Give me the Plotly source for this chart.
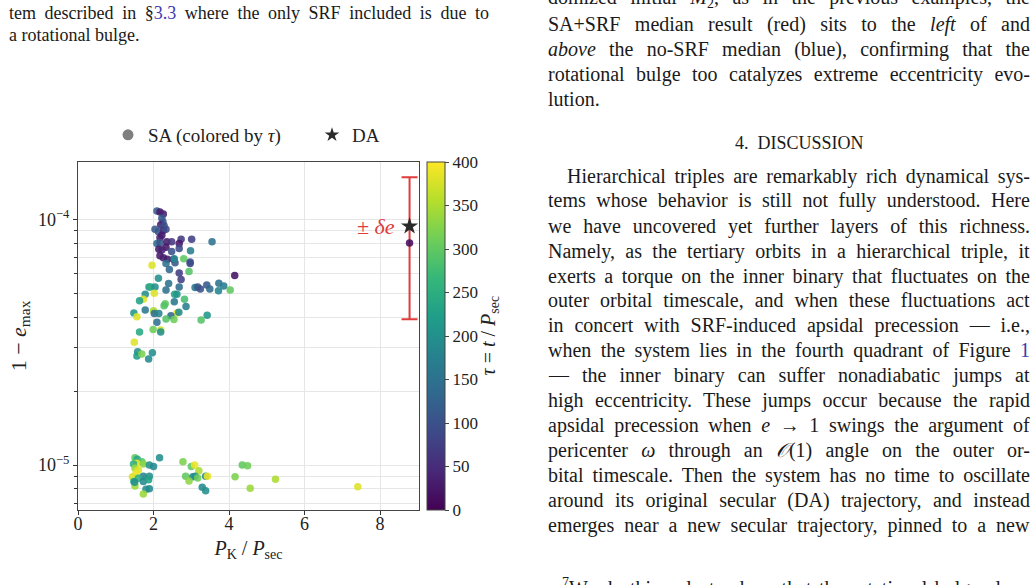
import plotly.graph_objects as go
import numpy as np
import json

# ---------------- data ----------------
sa_x = [2.09, 2.17, 2.26, 2.22, 2.25, 2.19, 2.28, 2.04, 2.13, 2.26, 2.33, 2.22, 2.17, 2.09, 2.17, 2.35, 2.48, 2.73, 3.01, 2.68,
        3.55, 2.33, 2.14, 2.22, 2.48, 2.68, 2.98, 2.17, 2.26, 2.37, 2.53, 2.57, 2.33, 2.55, 2.80, 2.97, 2.97, 1.96, 2.42, 2.68,
        2.94, 4.15, 2.73, 2.13, 2.40, 2.68, 1.88, 1.93, 2.04, 2.33, 3.10, 3.17, 3.24, 3.41, 3.73, 3.86, 3.72, 3.49, 4.03, 2.02,
        1.78, 2.56, 2.62, 1.73, 1.63, 2.82, 2.55, 2.31, 2.28, 2.86, 1.78, 2.00, 1.48, 2.02, 2.14, 2.62, 2.67, 2.46, 1.56, 2.33,
        2.54, 3.42, 3.26, 2.09, 1.63, 1.99, 2.19, 2.19, 1.49, 1.58, 1.56, 1.69, 1.97, 1.87, 8.78,
        1.51, 1.57, 1.69, 1.55, 1.73, 1.47, 1.89, 2.00, 2.16, 1.51, 1.60, 1.54, 1.44, 1.73, 1.89, 1.60, 1.73, 1.87, 1.48, 1.51,
        1.50, 1.80, 1.89, 1.73,
        2.78, 3.00, 3.09, 3.20, 2.85, 3.04, 3.10, 3.17, 2.94, 3.38, 3.43, 3.29, 3.38, 4.16, 4.35, 4.49, 4.56, 5.23, 7.41]
sa_y = [1.08e-4, 1.07e-4, 1.05e-4, 1.01e-4, 9.75e-5, 9.5e-5, 9.4e-5, 9.1e-5, 8.9e-5, 9.0e-5, 9.1e-5, 8.6e-5, 8.4e-5, 7.97e-5,
        8.0e-5, 8.1e-5, 8.1e-5, 8.3e-5, 8.3e-5, 7.97e-5, 8.1e-5, 7.7e-5, 7.55e-5, 7.5e-5, 7.4e-5, 7.6e-5, 7.45e-5, 7.1e-5,
        6.98e-5, 6.87e-5, 6.87e-5, 6.65e-5, 6.6e-5, 6.9e-5, 6.9e-5, 6.7e-5, 6.6e-5, 6.5e-5, 6.24e-5, 6.05e-5, 6.13e-5, 5.9e-5,
        5.69e-5, 5.75e-5, 5.48e-5, 5.3e-5, 5.3e-5, 5.3e-5, 5.3e-5, 5.15e-5, 5.27e-5, 5.3e-5, 5.2e-5, 5.4e-5, 5.49e-5, 5.35e-5,
        5.12e-5, 5.2e-5, 5.15e-5, 5.0e-5, 4.95e-5, 4.95e-5, 4.95e-5, 4.73e-5, 4.66e-5, 4.73e-5, 4.62e-5, 4.53e-5, 4.45e-5,
        4.42e-5, 4.27e-5, 4.24e-5, 4.15e-5, 4.14e-5, 4.14e-5, 4.15e-5, 4.18e-5, 4.05e-5, 4.01e-5, 3.93e-5, 3.91e-5, 4.07e-5,
        3.89e-5, 3.81e-5, 3.48e-5, 3.56e-5, 3.54e-5, 3.48e-5, 3.16e-5, 2.89e-5, 2.78e-5, 2.83e-5, 2.86e-5, 2.7e-5, 8.0e-5,
        1.07e-5, 1.055e-5, 1.03e-5, 1.016e-5, 1.01e-5, 1.01e-5, 1.0e-5, 9.85e-6, 1.07e-5, 9.7e-6, 9.55e-6, 9.25e-6, 8.96e-6,
        9.0e-6, 9.0e-6, 8.83e-6, 8.56e-6, 8.7e-6, 8.56e-6, 8.22e-6, 8.5e-6, 7.97e-6, 8.0e-6, 7.62e-6,
        1.03e-5, 9.85e-6, 1.0e-5, 9.48e-6, 9.0e-6, 8.96e-6, 9.0e-6, 8.85e-6, 8.6e-6, 9.0e-6, 9.0e-6, 8.12e-6, 7.85e-6, 8.96e-6,
        1.0e-5, 9.93e-6, 8.04e-6, 8.75e-6, 8.16e-6]
sa_tau = [120, 30, 35, 110, 105, 40, 100, 115, 110, 60, 95, 30, 35, 140, 110, 30, 60, 70, 75, 25,
          150, 25, 30, 40, 100, 90, 170, 30, 35, 30, 60, 110, 150, 190, 300, 100, 90, 380, 130, 70,
          290, 20, 75, 200, 150, 140, 210, 250, 200, 145, 160, 110, 100, 110, 150, 170, 180, 140, 300, 380,
          200, 230, 210, 380, 230, 280, 160, 300, 290, 170, 160, 350, 210, 140, 180, 380, 190, 130, 380, 290,
          310, 210, 290, 150, 240, 310, 370, 200, 380, 200, 220, 320, 200, 190, 15,
          300, 240, 290, 390, 330, 250, 200, 190, 200, 340, 380, 390, 380, 180, 200, 250, 190, 230, 240, 340,
          200, 200, 190, 340,
          320, 300, 390, 350, 300, 190, 200, 310, 330, 200, 390, 190, 200, 320, 300, 310, 340, 350, 380]

da_x = [8.78]
da_y = [9.37e-5]
da_err = [5.45e-5]

x_ticks = [0, 2, 4, 6, 8]
y_major = [1e-5, 1e-4]
y_major_text = ["10<sup>−5</sup>", "10<sup>−4</sup>"]
y_minor = [7e-6, 8e-6, 9e-6] + [m * 1e-5 for m in range(2, 10)]
cbar_ticks = [0, 50, 100, 150, 200, 250, 300, 350, 400]

SERIF = "Liberation Serif"
GRID = "#e6e6e6"
RED = "#e03c3c"

fig = go.Figure()

# error bar for DA
fig.add_trace(go.Scatter(
    x=da_x, y=da_y, mode="markers",
    marker=dict(size=1, opacity=0),
    error_y=dict(type="data", array=da_err, color=RED, thickness=2, width=8),
    showlegend=False, hoverinfo="skip"))

# SA points
fig.add_trace(go.Scatter(
    x=sa_x, y=sa_y, mode="markers",
    marker=dict(size=7.5, color=sa_tau, colorscale="Viridis", cmin=0, cmax=400, opacity=0.88,
                line=dict(width=0),
                colorbar=dict(thickness=18, len=1.0, lenmode="fraction", y=0.5, yanchor="middle",
                              x=1.023, xanchor="left", xpad=0, ypad=0,
                              tickvals=cbar_ticks, ticks="outside", ticklen=4,
                              tickfont=dict(family=SERIF, size=17, color="#222"),
                              outlinewidth=1, outlinecolor="#444")),
    showlegend=False))

# DA star
fig.add_trace(go.Scatter(
    x=da_x, y=da_y, mode="markers",
    marker=dict(symbol="star", size=13, color="#2b2b2b"),
    name="DA", showlegend=False))

# legend proxies
fig.add_trace(go.Scatter(x=[None], y=[None], mode="markers",
                         marker=dict(size=11, color="#7f7f7f"),
                         name="SA (colored by <i>τ</i>)", legend="legend"))
fig.add_trace(go.Scatter(x=[None], y=[None], mode="markers",
                         marker=dict(symbol="star", size=11, color="#2b2b2b"),
                         name="DA", legend="legend2"))

fig.update_xaxes(range=[0, 9.03], tickvals=x_ticks, showgrid=True, gridcolor=GRID, gridwidth=1,
                 ticks="outside", ticklen=4, tickcolor="#333", ticklabelstandoff=-7,
                 showline=True, linecolor="#444", linewidth=1.2, mirror=True, zeroline=False,
                 tickfont=dict(family=SERIF, size=18, color="#222"),
                 title=dict(text="<i>P</i><sub>K</sub> / <i>P</i><sub>sec</sub>",
                            font=dict(family=SERIF, size=20, color="#222"), standoff=8))
fig.update_yaxes(type="log", range=[np.log10(6.56e-6), np.log10(1.71e-4)],
                 tickvals=y_major, ticktext=y_major_text,
                 showgrid=True, gridcolor=GRID, gridwidth=1,
                 ticks="outside", ticklen=4, tickcolor="#333",
                 minor=dict(tickvals=y_minor, ticks="outside", ticklen=2.5, tickcolor="#333",
                            showgrid=True, gridcolor=GRID, gridwidth=1),
                 showline=True, linecolor="#444", linewidth=1.2, mirror=True, zeroline=False,
                 tickfont=dict(family=SERIF, size=18, color="#222"),
                 title=dict(text="1 − <i>e</i><sub>max</sub>",
                            font=dict(family=SERIF, size=22, color="#222"), standoff=5))

W, H = 1036, 585
def px(xp, yp):
    return (xp - 78) / (419 - 78), (510 - yp) / (510 - 162)

anns = []
# ±δe label
anns.append(dict(x=8.45, y=np.log10(9.37e-5), xref="x", yref="y", text="± <i>δe</i>", showarrow=False,
                 xanchor="right", yanchor="middle", font=dict(family=SERIF, size=22, color=RED)))
# colorbar title
cx, cy = px(503, 336)
anns.append(dict(x=cx, y=cy, xref="paper", yref="paper", text="<i>τ</i> = <i>t</i> / <i>P</i><sub>sec</sub>",
                 showarrow=False, textangle=-90, font=dict(family=SERIF, size=20, color="#222")))

BODY = dict(family=SERIF, size=20, color="#1a1a1a")
CAP = dict(family=SERIF, size=18, color="#1a1a1a")
BLUE = "#3b3bb0"

justify = {}  # annotation index -> right edge in px

left_lines = [
    (7, 13, f"tem described in §<span style='color:{BLUE}'>3.3</span> where the only SRF included is due to", 489),
    (7, 35, "a rotational bulge.", None),
]
for xp, yp, t, r in left_lines:
    ax, ay = px(xp, yp)
    if r:
        justify[len(anns)] = r
    anns.append(dict(x=ax, y=ay, xref="paper", yref="paper", text=t, showarrow=False, align="left",
                     xanchor="left", yanchor="middle", font=CAP))

R = 1030
right_lines = [
    (546, -1, "domized initial <i>M</i><sub>2</sub>, as in the previous examples, the", R),
    (546, 24, "SA+SRF median result (red) sits to the <i>left</i> of and", R),
    (546, 49, "<i>above</i> the no-SRF median (blue), confirming that the", R),
    (546, 74, "rotational bulge too catalyzes extreme eccentricity evo-", R),
    (546, 99, "lution.", None),
    (565, 176, "Hierarchical triples are remarkably rich dynamical sys-", R),
    (546, 201, "tems whose behavior is still not fully understood. Here", R),
    (546, 226, "we have uncovered yet further layers of this richness.", R),
    (546, 251, "Namely, as the tertiary orbits in a hierarchical triple, it", R),
    (546, 276, "exerts a torque on the inner binary that fluctuates on the", R),
    (546, 300, "outer orbital timescale, and when these fluctuations act", R),
    (546, 325, "in concert with SRF-induced apsidal precession — i.e.,", R),
    (546, 350, f"when the system lies in the fourth quadrant of Figure <span style='color:{BLUE}'>1</span>", R),
    (546, 375, "— the inner binary can suffer nonadiabatic jumps at", R),
    (546, 400, "high eccentricity. These jumps occur because the rapid", R),
    (546, 425, "apsidal precession when <i>e</i> → 1 swings the argument of", R),
    (546, 450, "pericenter <i>ω</i> through an <i>𝒪</i>(1) angle on the outer or-", R),
    (546, 475, "bital timescale. Then the system has no time to oscillate", R),
    (546, 500, "around its original secular (DA) trajectory, and instead", R),
    (546, 525, "emerges near a new secular trajectory, pinned to a new", R),
    (560, 587, "<sup>7</sup>We do this only to show that the rotational bulge alone", R),
]
for xp, yp, t, r in right_lines:
    ax, ay = px(xp, yp)
    if r:
        justify[len(anns)] = r
    anns.append(dict(x=ax, y=ay, xref="paper", yref="paper", text=t, showarrow=False, align="left",
                     xanchor="left", yanchor="middle", font=BODY))

hx, hy = px(799, 143)
anns.append(dict(x=hx, y=hy, xref="paper", yref="paper", text="4.  DISCUSSION", showarrow=False,
                 xanchor="center", yanchor="middle", font=dict(family=SERIF, size=18, color="#1a1a1a")))

l1x, l1y = px(108, 135)
l2x, l2y = px(312, 135)
LEGFONT = dict(family=SERIF, size=19, color="#222")
fig.update_layout(
    width=W, height=H,
    margin=dict(l=78, r=W - 419, t=162, b=H - 510, pad=0),
    paper_bgcolor="white", plot_bgcolor="white",
    annotations=anns,
    legend=dict(orientation="h", x=l1x, y=l1y, xanchor="left", yanchor="middle",
                font=LEGFONT, bgcolor="rgba(0,0,0,0)", borderwidth=0),
    legend2=dict(orientation="h", x=l2x, y=l2y, xanchor="left", yanchor="middle",
                 font=LEGFONT, bgcolor="rgba(0,0,0,0)", borderwidth=0),
    font=dict(family=SERIF),
)

js = """
var gd = document.getElementById('{plot_id}');
var J = %s;
function justifyLines(){
  var base = gd.getBoundingClientRect().left;
  var gs = gd.querySelectorAll('g.annotation');
  gs.forEach(function(g){
    var i = g.getAttribute('data-index');
    if(!(i in J)) return;
    var t = g.querySelector('text.annotation-text');
    if(!t) return;
    t.style.wordSpacing = '0px';
    var n = (t.textContent.match(/ /g)||[]).length;
    if(!n) return;
    var r = t.getBoundingClientRect();
    var ws = (base + J[i] - r.right)/n;
    t.style.wordSpacing = ws + 'px';
  });
}
justifyLines();
gd.on('plotly_afterplot', justifyLines);
""" % json.dumps({str(k): v for k, v in justify.items()})

fig.write_html("out.html", post_script=js)
